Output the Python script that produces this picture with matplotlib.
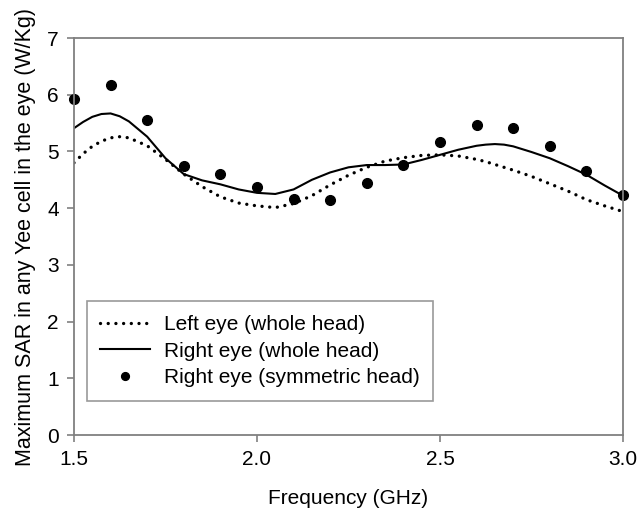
import matplotlib
matplotlib.use("Agg")
import matplotlib.pyplot as plt

plt.rcParams['font.family'] = ['Liberation Sans', 'DejaVu Sans']

# Curves
freq_line = [1.50, 1.525, 1.55, 1.575, 1.60, 1.625, 1.65, 1.70, 1.75, 1.80, 1.85,
             1.90, 1.95, 2.00, 2.05, 2.10, 2.15, 2.20, 2.25, 2.30, 2.35, 2.40,
             2.45, 2.50, 2.55, 2.60, 2.625, 2.65, 2.675, 2.70, 2.75, 2.80, 2.85,
             2.90, 2.95, 3.00]
left_whole = [4.80, 4.96, 5.09, 5.18, 5.24, 5.26, 5.24, 5.10, 4.86, 4.60, 4.38,
              4.20, 4.09, 4.04, 4.01, 4.08, 4.22, 4.41, 4.58, 4.72, 4.83, 4.89,
              4.93, 4.94, 4.92, 4.86, 4.82, 4.77, 4.72, 4.67, 4.56, 4.43, 4.30,
              4.15, 4.04, 3.94]
right_whole = [5.41, 5.52, 5.61, 5.66, 5.67, 5.62, 5.53, 5.26, 4.88, 4.60, 4.49,
               4.42, 4.33, 4.27, 4.25, 4.33, 4.50, 4.63, 4.72, 4.76, 4.76, 4.77,
               4.85, 4.94, 5.03, 5.10, 5.12, 5.13, 5.12, 5.09, 4.99, 4.88, 4.74,
               4.59, 4.40, 4.22]

freq_pts = [1.5, 1.6, 1.7, 1.8, 1.9, 2.0, 2.1, 2.2, 2.3, 2.4, 2.5, 2.6, 2.7, 2.8, 2.9, 3.0]
right_sym = [5.92, 6.17, 5.55, 4.75, 4.60, 4.37, 4.17, 4.14, 4.44, 4.76, 5.17, 5.46, 5.42, 5.09, 4.66, 4.23]

x_ticks = [1.5, 2.0, 2.5, 3.0]
x_tick_labels = ["1.5", "2.0", "2.5", "3.0"]
y_ticks = [0, 1, 2, 3, 4, 5, 6, 7]

fig = plt.figure(figsize=(6.4, 5.15), dpi=100)
ax = fig.add_axes([0.1156, 0.1553, 0.8578, 0.7709])

ax.plot(freq_line, left_whole, linestyle=(0, (0.01, 2.3)), color='black', lw=2.4,
        dash_capstyle='round', label='Left eye (whole head)')
ax.plot(freq_line, right_whole, linestyle='-', color='black', lw=1.5,
        label='Right eye (whole head)')
ax.plot(freq_pts, right_sym, linestyle='none', marker='o', color='black', ms=7,
        clip_on=False, label='Right eye (symmetric head)')

ax.set_xlim(1.5, 3.0)
ax.set_ylim(0, 7)
ax.set_xticks(x_ticks)
ax.set_xticklabels(x_tick_labels)
ax.set_yticks(y_ticks)

for s in ax.spines.values():
    s.set_color('#808080')
    s.set_linewidth(1.3)
ax.tick_params(axis='both', direction='out', length=5, width=1.2, color='#808080',
               labelsize=15, pad=6)

ax.set_xlabel('Frequency (GHz)', fontsize=15, labelpad=14)
ax.set_ylabel('Maximum SAR in any Yee cell in the eye (W/Kg)', fontsize=15.5, labelpad=8)

leg = ax.legend(loc='lower left', bbox_to_anchor=(0.023, 0.086), fontsize=15,
                frameon=True, fancybox=False, edgecolor='#808080',
                borderpad=0.65, labelspacing=0.37, handlelength=2.4,
                handletextpad=0.65, borderaxespad=0, markerscale=0.8)
leg.get_frame().set_linewidth(1.2)

fig.savefig('out.png', dpi=100)
